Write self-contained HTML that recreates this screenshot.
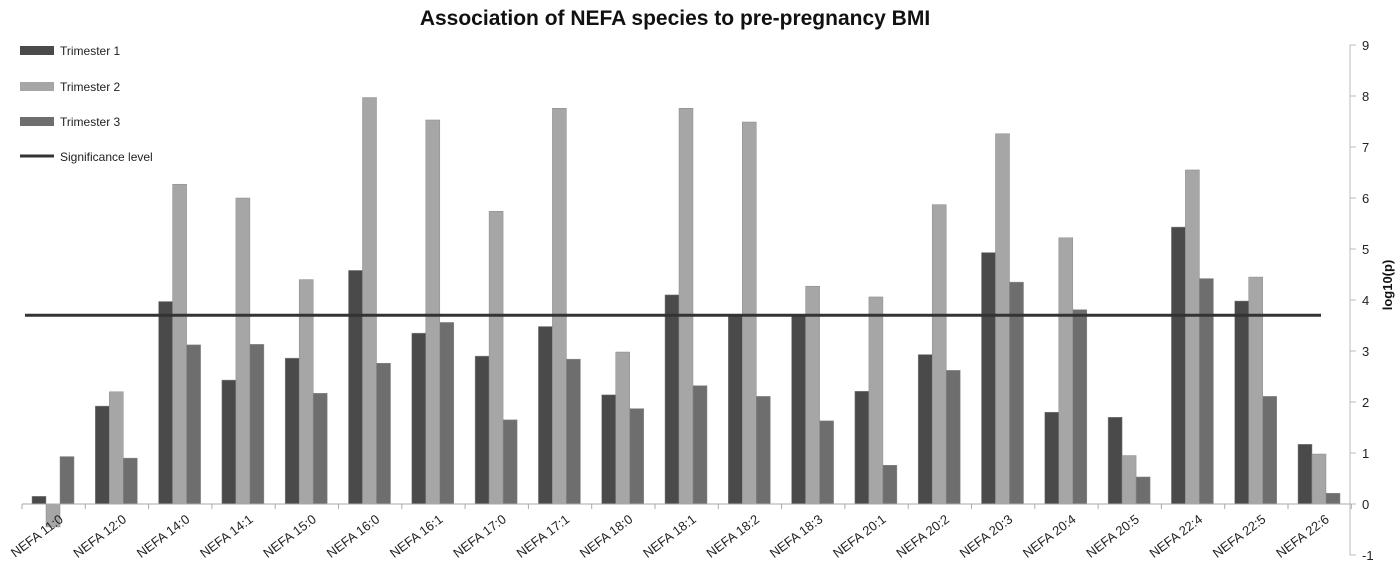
<!DOCTYPE html>
<html><head><meta charset="utf-8"><style>
body{margin:0;background:#fff;font-family:"Liberation Sans",sans-serif}
svg text{font-family:"Liberation Sans",sans-serif}
</style></head><body>
<svg id="c" width="1400" height="568">
<text x="675" y="25" text-anchor="middle" font-size="21" font-weight="bold" fill="#111">Association of NEFA species to pre-pregnancy BMI</text>
<g>
<rect x="20" y="46" width="34" height="9" fill="#4a4a4a"/>
<text x="60" y="55" font-size="12" fill="#222">Trimester 1</text>
<rect x="20" y="82" width="34" height="9" fill="#a6a6a6"/>
<text x="60" y="91" font-size="12" fill="#222">Trimester 2</text>
<rect x="20" y="117" width="34" height="9" fill="#6e6e6e"/>
<text x="60" y="126" font-size="12" fill="#222">Trimester 3</text>
<line x1="20" y1="156" x2="54" y2="156" stroke="#333" stroke-width="3"/>
<text x="60" y="161" font-size="12" fill="#222">Significance level</text>
</g>
<text transform="translate(1392,285) rotate(-90)" text-anchor="middle" font-size="13" font-weight="bold" fill="#111">log10(p)</text>
</svg>
<script>
const categories=["NEFA 11:0","NEFA 12:0","NEFA 14:0","NEFA 14:1","NEFA 15:0","NEFA 16:0","NEFA 16:1","NEFA 17:0","NEFA 17:1","NEFA 18:0","NEFA 18:1","NEFA 18:2","NEFA 18:3","NEFA 20:1","NEFA 20:2","NEFA 20:3","NEFA 20:4","NEFA 20:5","NEFA 22:4","NEFA 22:5","NEFA 22:6"];
const trimester1=[0.15,1.92,3.97,2.43,2.86,4.58,3.35,2.9,3.48,2.14,4.1,3.72,3.7,2.21,2.93,4.93,1.8,1.7,5.43,3.98,1.17];
const trimester2=[-0.45,2.2,6.27,6.0,4.4,7.97,7.53,5.74,7.76,2.98,7.76,7.49,4.27,4.06,5.87,7.26,5.22,0.95,6.55,4.45,0.98];
const trimester3=[0.93,0.9,3.12,3.13,2.17,2.76,3.56,1.65,2.84,1.87,2.32,2.11,1.63,0.76,2.62,4.35,3.81,0.53,4.42,2.11,0.21];
const significance=3.7;
const yTicks=[-1,0,1,2,3,4,5,6,7,8,9];
const NS="http://www.w3.org/2000/svg",svg=document.getElementById('c');
const x0=22,gw=63.3,y0=504,pu=51;
const y=v=>y0-v*pu;
const gx=i=>x0+i*gw;
function mk(t,a){const e=document.createElementNS(NS,t);for(const k in a)e.setAttribute(k,a[k]);svg.appendChild(e);return e;}
let e=mk('line',{x1:1350,y1:y(9),x2:1350,y2:y(-1),stroke:'#bbb'});


yTicks.forEach(t=>{
 let l=mk('line',{x1:1350,y1:y(t),x2:1356,y2:y(t),stroke:'#bbb'});
 
 
 let tx=mk('text',{x:1362,y:y(t)+5,'font-size':13,fill:'#222'});
 tx.textContent=t;
 
 
});
const series=[[trimester1,'#4a4a4a','t1'],[trimester2,'#a6a6a6','t2'],[trimester3,'#6e6e6e','t3']];
categories.forEach((c,i)=>{
 series.forEach(([arr,col,nm],s)=>{
  const v=arr[i],top=Math.min(y(v),y(0));
  let r=mk('rect',{x:gx(i)+10+s*14,y:top,width:14,height:Math.abs(y(v)-y(0)),fill:col,stroke:'#8a8a8a','stroke-width':0.5});
  
  
 });
 let tx=mk('text',{'text-anchor':'end','font-size':13,fill:'#222',transform:`translate(${gx(i)+42},${y0+17}) rotate(-37)`});
 tx.textContent=c;
 
 
});
e=mk('line',{x1:x0,y1:y0,x2:1350,y2:y0,stroke:'#aaa'});


for(let i=0;i<=categories.length;i++){
 let l=mk('line',{x1:gx(i),y1:y0,x2:gx(i),y2:y0+5,stroke:'#aaa'});
 
 
}
e=mk('line',{x1:25,y1:y(significance),x2:1321,y2:y(significance),stroke:'#333','stroke-width':3});


</script>
</body></html>
